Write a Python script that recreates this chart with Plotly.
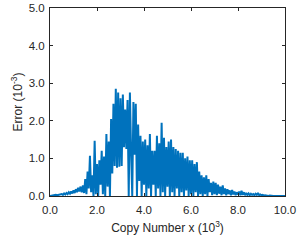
import plotly.graph_objects as go

# x values (10^3), step 0.05
copy_number = [round(i * 0.05, 2) for i in range(201)]

# error values (10^-3)
error = [
    0.00, 0.01, 0.02, 0.01, 0.02, 0.03, 0.02, 0.03, 0.04, 0.03,
    0.05, 0.03, 0.07, 0.04, 0.08, 0.05, 0.10, 0.06, 0.12, 0.07,
    0.15, 0.08, 0.18, 0.10, 0.22, 0.12, 0.25, 0.10, 0.28, 0.08,
    0.45, 0.05, 0.65, 0.20, 1.07, 0.10, 0.55, 0.00, 1.47, 0.05,
    0.85, 0.00, 0.95, 0.30, 1.20, 0.05, 1.05, 0.00, 1.65, 0.25,
    1.45, 0.00, 2.05, 0.60, 2.45, 0.80, 2.85, 0.75, 2.75, 0.78,
    2.60, 0.80, 2.70, 1.30, 2.30, 1.25, 2.55, 0.00, 2.75, 1.20,
    0.00, 2.50, 1.10, 2.45, 0.00, 1.90, 0.40, 1.60, 0.00, 1.45,
    0.30, 1.50, 0.00, 1.35, 0.20, 1.65, 0.00, 1.20, 0.30, 1.20,
    0.00, 1.60, 0.20, 1.40, 0.00, 1.95, 0.10, 1.55, 0.00, 1.30,
    0.25, 1.45, 0.00, 1.50, 0.10, 1.30, 0.00, 1.25, 0.20, 1.20,
    0.00, 1.15, 0.10, 1.15, 0.00, 1.00, 0.15, 1.05, 0.00, 0.95,
    0.05, 0.95, 0.00, 0.85, 0.10, 0.90, 0.00, 0.65, 0.05, 0.55,
    0.00, 0.50, 0.05, 0.55, 0.00, 0.45, 0.10, 0.35, 0.02, 0.38,
    0.05, 0.35, 0.02, 0.30, 0.06, 0.25, 0.02, 0.28, 0.05, 0.20,
    0.02, 0.18, 0.05, 0.15, 0.02, 0.16, 0.04, 0.12, 0.02, 0.10,
    0.04, 0.12, 0.02, 0.14, 0.03, 0.10, 0.02, 0.08, 0.03, 0.07,
    0.02, 0.06, 0.03, 0.05, 0.02, 0.06, 0.03, 0.08, 0.02, 0.04,
    0.02, 0.03, 0.01, 0.02, 0.01, 0.01, 0.00, 0.01, 0.00, 0.00,
    0.00, 0.00, 0.00, 0.00, 0.00, 0.00, 0.00, 0.00, 0.00, 0.00,
    0.00,
]

x_ticks = [0, 2, 4, 6, 8, 10]
y_ticks = [0, 1, 2, 3, 4, 5]

FONT = "Liberation Sans, Arial, sans-serif"

fig = go.Figure()
fig.add_trace(go.Scatter(
    x=copy_number, y=error, mode="lines",
    line=dict(color="#0072BD", width=2),
    showlegend=False,
))

axis_common = dict(
    showline=True, linecolor="#262626", linewidth=1,
    mirror="ticks", ticks="inside", ticklen=3, tickwidth=1,
    tickcolor="#262626", showgrid=False, zeroline=False,
    tickformat=".1f", automargin=False,
    tickfont=dict(family=FONT, size=11.5, color="#262626"),
)

fig.update_layout(
    width=298, height=240,
    margin=dict(l=50, r=13, t=8, b=44),
    plot_bgcolor="white", paper_bgcolor="white",
    font=dict(family=FONT, size=11.5, color="#262626"),
    xaxis=dict(range=[0, 10], tickvals=x_ticks, ticklabelstandoff=3,
               title=dict(text="Copy Number x (10<sup>3</sup>)", standoff=8,
                          font=dict(family=FONT, size=12, color="#262626")),
               **axis_common),
    yaxis=dict(range=[0, 5], tickvals=y_ticks, ticklabelstandoff=2,
               title=dict(text="Error (10<sup>-3</sup>)", standoff=3,
                          font=dict(family=FONT, size=12, color="#262626")),
               **axis_common),
)

fig.write_html("out.html", config={"displayModeBar": False},
               post_script="document.body.style.margin='0';")
